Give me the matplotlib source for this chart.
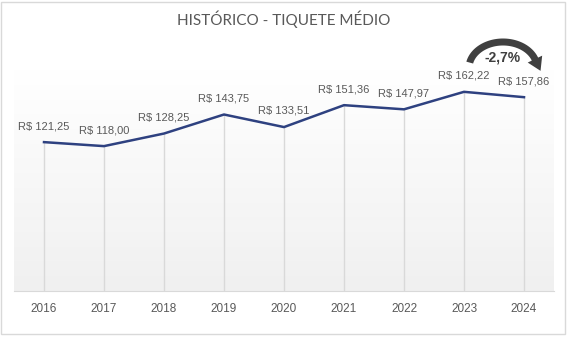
import numpy as np
import matplotlib.pyplot as plt
from matplotlib.patches import Polygon, Rectangle
from matplotlib.colors import LinearSegmentedColormap

anos = ["2016", "2017", "2018", "2019", "2020", "2021", "2022", "2023", "2024"]
ticket = [121.25, 118.00, 128.25, 143.75, 133.51, 151.36, 147.97, 162.22, 157.86]
rotulos = ["R$ 121,25", "R$ 118,00", "R$ 128,25", "R$ 143,75", "R$ 133,51",
           "R$ 151,36", "R$ 147,97", "R$ 162,22", "R$ 157,86"]
variacao = "-2,7%"

cinza = "#595959"
azul = "#2E4180"
W, H = 567, 340

fig = plt.figure(figsize=(W / 100, H / 100), dpi=100)
ax = fig.add_axes([14 / W, 1 - 291 / H, 540 / W, 221 / H])

x = np.arange(len(anos))

# fundo em degrade
grad = np.linspace(1.0, 0.0, 256).reshape(-1, 1)
ax.imshow(grad, extent=[0, 1, 0, 1], transform=ax.transAxes, aspect="auto",
          cmap=LinearSegmentedColormap.from_list("g", ["#f0f0f0", "#ffffff"]),
          zorder=0)

ax.vlines(x, 0, ticket, color="#d9d9d9", lw=1, zorder=1)
ax.plot(x, ticket, color=azul, lw=1.8, zorder=3)

for xi, yi, t in zip(x, ticket, rotulos):
    ax.annotate(t, (xi, yi), xytext=(0, 8), textcoords="offset points",
                ha="center", va="bottom", fontsize=8, color=cinza,
                family="Liberation Sans")

ax.set_xlim(-0.5, len(anos) - 0.5)
ax.set_ylim(0, 180)
ax.set_xticks(x)
ax.set_xticklabels(anos, fontsize=8.5, color=cinza, family="Liberation Sans")
ax.tick_params(axis="x", length=0, pad=9)
ax.set_yticks([])
for s in ["top", "left", "right"]:
    ax.spines[s].set_visible(False)
ax.spines["bottom"].set_color("#d9d9d9")

fig.text(0.5, 1 - 19 / H, "HISTÓRICO - TIQUETE MÉDIO", ha="center", va="center",
         fontsize=11, color=cinza, family="Lato")

# seta curva (pixels, y a partir do topo)
cx, cy, rx, ry = 503, 68, 34, 26
larg, cab_larg, cab_comp = 7, 16, 13
th = np.radians(np.linspace(168, 20, 60))
px_ = cx + rx * np.cos(th)
py_ = cy - ry * np.sin(th)
tx, ty = rx * np.sin(th), ry * np.cos(th)          # tangente (sentido horario)
n = np.hypot(tx, ty)
tx, ty = tx / n, ty / n
nx, ny = -ty, tx                                   # normal
fora = np.c_[px_ - nx * larg / 2, py_ - ny * larg / 2]
dentro = np.c_[px_ + nx * larg / 2, py_ + ny * larg / 2]
bx, by, ux, uy, vx, vy = px_[-1], py_[-1], tx[-1], ty[-1], nx[-1], ny[-1]
cabeca = np.array([[bx - vx * cab_larg / 2, by - vy * cab_larg / 2],
                   [bx + ux * cab_comp, by + uy * cab_comp],
                   [bx + vx * cab_larg / 2, by + vy * cab_larg / 2]])
pts = np.vstack([fora, cabeca, dentro[::-1]])
pts = np.c_[pts[:, 0] / 100, (H - pts[:, 1]) / 100]
fig.add_artist(Polygon(pts, closed=True, transform=fig.dpi_scale_trans,
                       facecolor="#404040", edgecolor="none"))
fig.text(503 / W, 1 - 57 / H, variacao, ha="center", va="center", fontsize=10,
         fontweight="bold", color="#404040", family="Liberation Sans")

fig.add_artist(Rectangle((1 / W, 6 / H), 564 / W, 332 / H, transform=fig.transFigure,
                         fill=False, edgecolor="#d9d9d9", lw=1))

fig.savefig("out.png", dpi=100)
